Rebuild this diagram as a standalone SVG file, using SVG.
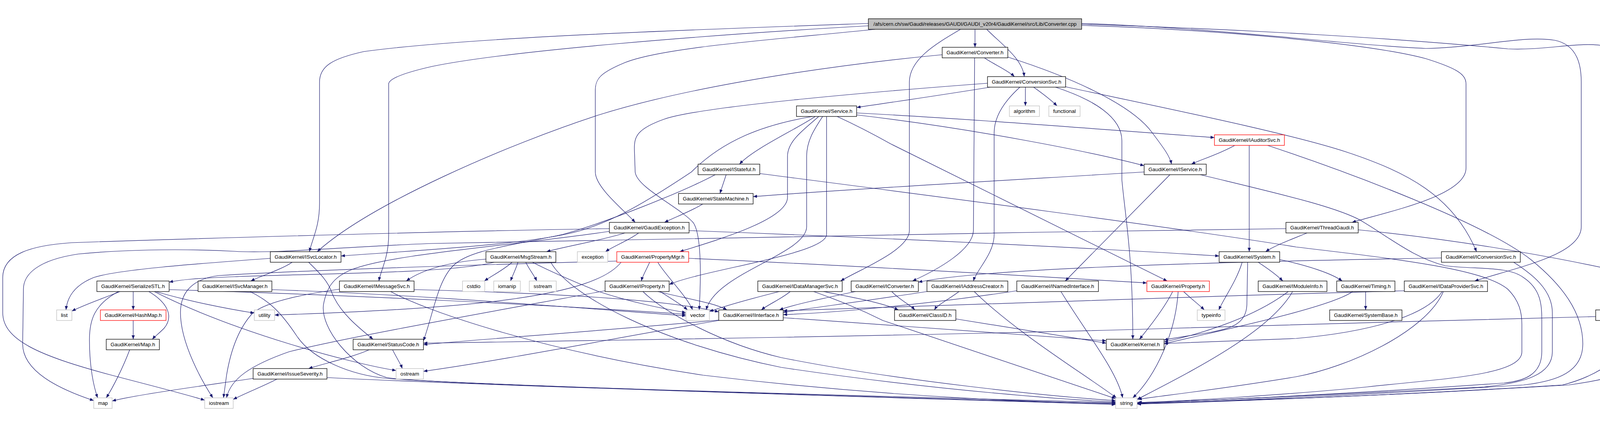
<svg xmlns="http://www.w3.org/2000/svg" width="4424" height="1090" viewBox="0 0 4424 1090">
<defs>
<marker id="a" viewBox="0 0 10 8" refX="10" refY="4" markerWidth="10" markerHeight="8" markerUnits="userSpaceOnUse" orient="auto"><path d="M0,0 L10,4 L0,8 z" fill="#191970"/></marker>
<style>
.node rect{fill:#fff;stroke:#000;stroke-width:1.3}
.node.g rect{stroke:#bfbfbf}
.node.r rect{stroke:#ff0000}
.node.root rect{fill:#bfbfbf}
.node text{font-family:"Liberation Sans",Arial,Helvetica,sans-serif;font-size:13px;fill:#000;text-anchor:middle}
#edges path{fill:none;stroke:#191970;stroke-width:1.2;marker-end:url(#a)}
</style>
</defs>
<rect width="4424" height="1090" fill="#fff"/>
<g id="edges">
<path d="M2496,75 L2496,121"/>
<path d="M2526,75 C2560,110 2618,150 2622,196"/>
<path d="M2223,60 C1800,75 1200,95 931,132 C850,150 818,170 818,210 L818,520 C818,580 800,610 792,644"/>
<path d="M2223,66 C1800,90 1300,130 1106,170 C1040,185 995,200 995,215 L995,600 C995,660 975,690 970,719"/>
<path d="M2240,75 C2000,100 1700,120 1600,160 C1540,185 1524,200 1524,230 L1524,440 C1524,480 1600,540 1626,569"/>
<path d="M2459,75 C2400,110 2328,150 2328,210 L2328,590 C2328,640 2200,690 2152,719"/>
<path d="M2769,65 C3100,75 3500,110 3650,150 C3730,175 3753,190 3753,215 L3753,430 C3753,500 3560,540 3461,569"/>
<path d="M2769,60 C3100,70 3450,115 3650,124 C3800,120 3900,90 3980,103 C4040,115 4048,170 4048,210 L4048,580 C4048,650 3900,680 3775,719"/>
<path d="M2769,62 C3200,75 3600,100 3860,125 C3950,130 4050,105 4110,118 C4160,130 4176,170 4176,210 L4176,700 C4176,740 4190,770 4196,793"/>
<path d="M2520,148 C2545,165 2580,180 2597,196"/>
<path d="M2580,146 C2750,200 2900,270 2950,340 C2980,380 2995,400 2999,420"/>
<path d="M2412,140 C2200,160 1800,210 1530,295 C1300,370 950,520 812,644"/>
<path d="M2495,148 L2492,590 C2490,640 2400,690 2336,719"/>
<path d="M2625,223 L2625,271"/>
<path d="M2646,223 C2670,240 2690,255 2706,271"/>
<path d="M2528,213 C2300,230 1800,270 1700,305 C1630,330 1624,350 1624,380 L1626,440 C1630,480 1740,530 1775,570 C1795,600 1795,700 1790,793"/>
<path d="M2535,223 C2400,245 2280,262 2193,275"/>
<path d="M2611,223 C2570,260 2545,300 2545,340 L2545,600 C2545,650 2500,690 2492,719"/>
<path d="M2702,223 C2800,255 2872,300 2872,360 L2872,460 C2880,550 2900,650 2900,868"/>
<path d="M2728,222 C2950,270 3300,340 3450,390 C3600,440 3720,500 3780,644"/>
<path d="M2193,289 C2500,305 2800,330 3109,352"/>
<path d="M2193,294 C2500,330 2800,390 2929,424"/>
<path d="M2143,298 C2180,315 2230,340 2280,368 L2988,719"/>
<path d="M2080,298 C1950,320 1850,360 1770,440 C1650,520 1550,580 1445,600 C1300,630 1000,645 873,655"/>
<path d="M2087,298 C2040,330 1930,380 1893,420"/>
<path d="M2096,298 C2060,330 2016,360 2016,400 L2016,505 C2016,560 1850,610 1740,644"/>
<path d="M2106,298 C2085,330 2065,360 2065,400 L2065,580 C2065,650 1830,700 1808,793"/>
<path d="M2116,298 L2116,600 C2116,650 1800,690 1713,728"/>
<path d="M3161,372 C3120,395 3070,410 3050,420"/>
<path d="M3198,372 L3198,644"/>
<path d="M3245,372 C3450,440 3800,570 3920,665 C4000,730 4052,800 4052,880 C4052,950 3990,975 3900,985 C3500,1010 3100,1028 2911,1033"/>
<path d="M2995,447 L2727,719"/>
<path d="M2929,440 C2600,460 2200,482 1928,503"/>
<path d="M3073,447 C3250,490 3430,530 3490,568 C3560,610 3620,660 3700,680 C3780,690 3860,680 3900,710 C3945,740 3947,780 3947,820 L3947,900 C3947,960 3900,975 3850,980 C3500,1005 3100,1025 2911,1031"/>
<path d="M1859,447 L1843,495"/>
<path d="M1831,447 C1750,490 1550,570 1440,600 C1300,630 1200,640 1160,680 C1120,720 1110,800 1084,872"/>
<path d="M1945,444 C2300,490 3000,580 3318,632 C3600,665 3800,690 3860,740 C3890,770 3896,800 3896,830 L3896,900 C3896,960 3700,968 3500,990 C3300,1010 3000,1028 2911,1030"/>
<path d="M1799,522 C1770,540 1730,555 1701,569"/>
<path d="M1600,596 C1540,615 1450,630 1399,644"/>
<path d="M1635,596 C1610,615 1570,630 1550,644"/>
<path d="M1764,590 C2300,610 2800,635 3121,655"/>
<path d="M1560,585 C1200,590 500,610 183,621 C80,628 7,650 7,710 L7,800 C7,870 100,910 282,959 C400,990 480,1010 524,1024"/>
<path d="M1560,592 C1300,630 1000,650 900,690 C850,710 835,740 828,780 C820,840 900,940 990,966 C1100,985 2300,1015 2856,1030"/>
<path d="M3346,596 C3300,615 3260,630 3240,644"/>
<path d="M3292,585 C2500,595 1500,615 1106,623 C900,630 700,650 600,643 C450,635 300,640 200,650 C100,665 60,700 60,740 L58,880 C58,950 150,995 240,1025"/>
<path d="M3477,588 C3800,620 4100,680 4250,720 C4320,745 4340,780 4337,820 C4330,900 4200,960 4016,985 C3600,1010 3200,1025 2911,1032"/>
<path d="M748,671 C720,690 670,705 642,719"/>
<path d="M692,661 C500,675 300,690 240,710 C190,730 172,760 169,793"/>
<path d="M790,671 C820,700 840,720 850,750 C870,800 920,840 955,868"/>
<path d="M640,746 C690,770 720,800 760,860 C800,920 900,960 990,968 C1100,980 2000,1010 2856,1033"/>
<path d="M695,741 C1100,755 1500,790 1756,808"/>
<path d="M869,740 C760,755 680,775 648,800 C610,840 590,900 580,960 C576,990 574,1005 572,1018"/>
<path d="M1060,741 C1400,750 1700,765 1840,798"/>
<path d="M1000,746 C1100,800 1400,900 1800,960 C2300,1020 2700,1030 2856,1032"/>
<path d="M1311,671 C1290,690 1260,705 1240,719"/>
<path d="M1326,671 C1320,690 1312,705 1307,719"/>
<path d="M1346,671 C1355,690 1368,705 1374,719"/>
<path d="M1363,671 C1420,700 1480,725 1530,745 C1620,775 1700,790 1756,800"/>
<path d="M1244,663 C1150,670 1080,690 1040,719"/>
<path d="M1265,671 C1150,700 800,700 600,708 C500,712 460,716 433,722"/>
<path d="M1410,671 C1460,760 1700,880 2000,940 C2400,1000 2750,1024 2856,1028"/>
<path d="M1663,671 C1655,690 1645,705 1642,719"/>
<path d="M1684,671 C1700,700 1760,760 1773,793"/>
<path d="M1763,661 C2200,680 2700,710 2936,724"/>
<path d="M1579,668 C1300,675 800,690 560,705 C480,715 462,760 462,800 C462,880 520,980 545,1018"/>
<path d="M1590,671 C1520,760 1200,790 703,806"/>
<path d="M1684,746 C1760,765 1830,775 1861,793"/>
<path d="M1690,746 C1720,765 1745,780 1760,793"/>
<path d="M1646,746 C1700,800 1850,880 2000,915 C2300,975 2700,1015 2856,1025"/>
<path d="M1549,744 C1300,790 900,860 740,900 C640,935 590,970 580,1018"/>
<path d="M2023,746 C2000,765 1965,780 1949,793"/>
<path d="M1995,746 C1900,770 1850,785 1816,797"/>
<path d="M2083,746 C2150,770 2200,790 2260,820 L2856,1020"/>
<path d="M2108,746 C2180,760 2260,775 2300,793"/>
<path d="M2283,746 C2300,765 2330,780 2342,793"/>
<path d="M2190,746 C2100,765 2030,780 1995,793"/>
<path d="M2455,746 C2430,765 2400,780 2392,793"/>
<path d="M2373,746 C2250,765 2100,785 2005,799"/>
<path d="M2494,746 C2600,850 2780,960 2858,1018"/>
<path d="M2603,744 C2400,775 2150,800 2005,805"/>
<path d="M2716,746 C2780,850 2860,950 2874,1018"/>
<path d="M3002,746 C2980,790 2940,840 2917,868"/>
<path d="M3016,746 C3010,850 2960,960 2900,1018"/>
<path d="M3030,746 C3050,765 3070,780 3083,793"/>
<path d="M3298,746 C3200,820 3050,860 2980,875"/>
<path d="M3309,746 C3250,850 3050,950 2911,1022"/>
<path d="M3496,746 L3496,793"/>
<path d="M3463,746 C3400,790 3100,850 2980,880"/>
<path d="M3595,744 C3000,760 2300,785 2005,795"/>
<path d="M3692,746 C3650,810 3500,850 3318,866 L2980,879"/>
<path d="M3695,746 C3650,850 3450,940 3318,964 C3100,1000 2950,1015 2913,1022"/>
<path d="M3180,671 C3165,720 3135,760 3120,793"/>
<path d="M3194,671 L3192,780 C3190,830 3150,840 3100,850 C3040,860 3000,865 2980,870"/>
<path d="M3221,671 C3250,690 3270,705 3284,719"/>
<path d="M3276,664 C3350,680 3410,700 3436,719"/>
<path d="M3690,660 C3000,672 2500,690 2351,722"/>
<path d="M3875,671 C3920,700 3974,740 3974,800 L3974,900 C3974,960 3900,980 3800,990 C3400,1010 3100,1025 2913,1030"/>
<path d="M4085,810 C3700,822 3400,826 3000,840 C2500,856 1500,872 1084,878"/>
<path d="M4201,821 C4180,900 4100,960 4000,985 C3600,1010 3200,1025 2911,1034"/>
<path d="M2005,813 C2300,832 2600,855 2832,872"/>
<path d="M1840,819 C1500,850 1200,870 1084,882"/>
<path d="M1840,820 C1600,860 1300,920 1084,950"/>
<path d="M2447,816 C2600,840 2750,865 2832,878"/>
<path d="M945,895 C900,915 830,930 790,943"/>
<path d="M1005,895 C1015,915 1025,930 1030,943"/>
<path d="M649,968 C500,990 350,1010 287,1026"/>
<path d="M709,970 C670,990 630,1005 597,1022"/>
<path d="M837,966 C1200,985 2200,1015 2856,1035"/>
<path d="M307,746 C260,765 215,780 184,796"/>
<path d="M341,746 L341,793"/>
<path d="M381,746 C430,775 445,810 420,840 C405,855 395,862 390,868"/>
<path d="M303,746 C240,780 229,820 229,870 C229,940 240,990 250,1018"/>
<path d="M399,746 C480,770 580,790 651,801"/>
<path d="M395,746 C600,850 900,930 1014,948"/>
<path d="M433,741 C900,755 1400,780 1756,804"/>
<path d="M341,820 L341,868"/>
<path d="M332,895 C315,940 290,990 272,1018"/>
</g>
<g id="root" class="node root"><rect x="2223" y="48" width="546" height="27"/><text x="2496" y="66" textLength="520" lengthAdjust="spacingAndGlyphs">/afs/cern.ch/sw/Gaudi/releases/GAUDI/GAUDI_v20r4/GaudiKernel/src/Lib/Converter.cpp</text></g>
<g id="n_converter" class="node"><rect x="2412" y="121" width="168" height="27"/><text x="2496" y="139" textLength="146" lengthAdjust="spacingAndGlyphs">GaudiKernel/Converter.h</text></g>
<g id="n_conversionsvc" class="node"><rect x="2528" y="196" width="200" height="27"/><text x="2628" y="214" textLength="178" lengthAdjust="spacingAndGlyphs">GaudiKernel/ConversionSvc.h</text></g>
<g id="n_algorithm" class="node g"><rect x="2584" y="271" width="77" height="27"/><text x="2622.5" y="289" textLength="55" lengthAdjust="spacingAndGlyphs">algorithm</text></g>
<g id="n_functional" class="node g"><rect x="2685" y="271" width="80" height="27"/><text x="2725" y="289" textLength="58" lengthAdjust="spacingAndGlyphs">functional</text></g>
<g id="n_service" class="node"><rect x="2039" y="271" width="154" height="27"/><text x="2116" y="289" textLength="132" lengthAdjust="spacingAndGlyphs">GaudiKernel/Service.h</text></g>
<g id="n_iauditorsvc" class="node r"><rect x="3109" y="345" width="179" height="27"/><text x="3198.5" y="363" textLength="157" lengthAdjust="spacingAndGlyphs">GaudiKernel/IAuditorSvc.h</text></g>
<g id="n_istateful" class="node"><rect x="1787" y="420" width="158" height="27"/><text x="1866" y="438" textLength="136" lengthAdjust="spacingAndGlyphs">GaudiKernel/IStateful.h</text></g>
<g id="n_iservice" class="node"><rect x="2929" y="420" width="159" height="27"/><text x="3008.5" y="438" textLength="137" lengthAdjust="spacingAndGlyphs">GaudiKernel/IService.h</text></g>
<g id="n_statemachine" class="node"><rect x="1737" y="495" width="191" height="27"/><text x="1832.5" y="513" textLength="169" lengthAdjust="spacingAndGlyphs">GaudiKernel/StateMachine.h</text></g>
<g id="n_gaudiexception" class="node"><rect x="1560" y="569" width="204" height="27"/><text x="1662" y="587" textLength="182" lengthAdjust="spacingAndGlyphs">GaudiKernel/GaudiException.h</text></g>
<g id="n_threadgaudi" class="node"><rect x="3292" y="569" width="185" height="27"/><text x="3384.5" y="587" textLength="163" lengthAdjust="spacingAndGlyphs">GaudiKernel/ThreadGaudi.h</text></g>
<g id="n_isvclocator" class="node"><rect x="692" y="644" width="181" height="27"/><text x="782.5" y="662" textLength="159" lengthAdjust="spacingAndGlyphs">GaudiKernel/ISvcLocator.h</text></g>
<g id="n_msgstream" class="node"><rect x="1244" y="644" width="179" height="27"/><text x="1333.5" y="662" textLength="157" lengthAdjust="spacingAndGlyphs">GaudiKernel/MsgStream.h</text></g>
<g id="n_exception" class="node g"><rect x="1478" y="644" width="78" height="27"/><text x="1517" y="662" textLength="56" lengthAdjust="spacingAndGlyphs">exception</text></g>
<g id="n_propertymgr" class="node r"><rect x="1579" y="644" width="184" height="27"/><text x="1671" y="662" textLength="162" lengthAdjust="spacingAndGlyphs">GaudiKernel/PropertyMgr.h</text></g>
<g id="n_system" class="node"><rect x="3121" y="644" width="155" height="27"/><text x="3198.5" y="662" textLength="133" lengthAdjust="spacingAndGlyphs">GaudiKernel/System.h</text></g>
<g id="n_iconversionsvc" class="node"><rect x="3690" y="644" width="202" height="27"/><text x="3791" y="662" textLength="180" lengthAdjust="spacingAndGlyphs">GaudiKernel/IConversionSvc.h</text></g>
<g id="n_serializestl" class="node"><rect x="248" y="719" width="185" height="27"/><text x="340.5" y="737" textLength="163" lengthAdjust="spacingAndGlyphs">GaudiKernel/SerializeSTL.h</text></g>
<g id="n_isvcmanager" class="node"><rect x="507" y="719" width="189" height="27"/><text x="601.5" y="737" textLength="167" lengthAdjust="spacingAndGlyphs">GaudiKernel/ISvcManager.h</text></g>
<g id="n_imessagesvc" class="node"><rect x="869" y="719" width="191" height="27"/><text x="964.5" y="737" textLength="169" lengthAdjust="spacingAndGlyphs">GaudiKernel/IMessageSvc.h</text></g>
<g id="n_cstdio" class="node g"><rect x="1184" y="719" width="57" height="27"/><text x="1212.5" y="737" textLength="35" lengthAdjust="spacingAndGlyphs">cstdio</text></g>
<g id="n_iomanip" class="node g"><rect x="1264" y="719" width="68" height="27"/><text x="1298" y="737" textLength="46" lengthAdjust="spacingAndGlyphs">iomanip</text></g>
<g id="n_sstream" class="node g"><rect x="1355" y="719" width="69" height="27"/><text x="1389.5" y="737" textLength="47" lengthAdjust="spacingAndGlyphs">sstream</text></g>
<g id="n_iproperty" class="node"><rect x="1549" y="719" width="164" height="27"/><text x="1631" y="737" textLength="142" lengthAdjust="spacingAndGlyphs">GaudiKernel/IProperty.h</text></g>
<g id="n_idatamanagersvc" class="node"><rect x="1940" y="719" width="216" height="27"/><text x="2048" y="737" textLength="194" lengthAdjust="spacingAndGlyphs">GaudiKernel/IDataManagerSvc.h</text></g>
<g id="n_iconverter" class="node"><rect x="2179" y="719" width="172" height="27"/><text x="2265" y="737" textLength="150" lengthAdjust="spacingAndGlyphs">GaudiKernel/IConverter.h</text></g>
<g id="n_iaddresscreator" class="node"><rect x="2373" y="719" width="207" height="27"/><text x="2476.5" y="737" textLength="185" lengthAdjust="spacingAndGlyphs">GaudiKernel/IAddressCreator.h</text></g>
<g id="n_inamedinterface" class="node"><rect x="2603" y="719" width="209" height="27"/><text x="2707.5" y="737" textLength="187" lengthAdjust="spacingAndGlyphs">GaudiKernel/INamedInterface.h</text></g>
<g id="n_property" class="node r"><rect x="2936" y="719" width="160" height="27"/><text x="3016" y="737" textLength="138" lengthAdjust="spacingAndGlyphs">GaudiKernel/Property.h</text></g>
<g id="n_imoduleinfo" class="node"><rect x="3221" y="719" width="176" height="27"/><text x="3309" y="737" textLength="154" lengthAdjust="spacingAndGlyphs">GaudiKernel/IModuleInfo.h</text></g>
<g id="n_timing" class="node"><rect x="3422" y="719" width="149" height="27"/><text x="3496.5" y="737" textLength="127" lengthAdjust="spacingAndGlyphs">GaudiKernel/Timing.h</text></g>
<g id="n_idataprovidersvc" class="node"><rect x="3595" y="719" width="213" height="27"/><text x="3701.5" y="737" textLength="191" lengthAdjust="spacingAndGlyphs">GaudiKernel/IDataProviderSvc.h</text></g>
<g id="n_list" class="node g"><rect x="145" y="793" width="39" height="27"/><text x="164.5" y="811" textLength="17" lengthAdjust="spacingAndGlyphs">list</text></g>
<g id="n_hashmap" class="node r"><rect x="257" y="793" width="168" height="27"/><text x="341" y="811" textLength="146" lengthAdjust="spacingAndGlyphs">GaudiKernel/HashMap.h</text></g>
<g id="n_utility" class="node g"><rect x="651" y="793" width="52" height="27"/><text x="677" y="811" textLength="30" lengthAdjust="spacingAndGlyphs">utility</text></g>
<g id="n_vector" class="node g"><rect x="1756" y="793" width="60" height="27"/><text x="1786" y="811" textLength="38" lengthAdjust="spacingAndGlyphs">vector</text></g>
<g id="n_iinterface" class="node"><rect x="1840" y="793" width="165" height="27"/><text x="1922.5" y="811" textLength="143" lengthAdjust="spacingAndGlyphs">GaudiKernel/IInterface.h</text></g>
<g id="n_classid" class="node"><rect x="2290" y="793" width="157" height="27"/><text x="2368.5" y="811" textLength="135" lengthAdjust="spacingAndGlyphs">GaudiKernel/ClassID.h</text></g>
<g id="n_typeinfo" class="node g"><rect x="3065" y="793" width="71" height="27"/><text x="3100.5" y="811" textLength="49" lengthAdjust="spacingAndGlyphs">typeinfo</text></g>
<g id="n_systembase" class="node"><rect x="3404" y="793" width="185" height="27"/><text x="3496.5" y="811" textLength="163" lengthAdjust="spacingAndGlyphs">GaudiKernel/SystemBase.h</text></g>
<g id="n_servicelocatorhelper" class="node"><rect x="4085" y="793" width="238" height="27"/><text x="4204" y="811" textLength="216" lengthAdjust="spacingAndGlyphs">GaudiKernel/ServiceLocatorHelper.h</text></g>
<g id="n_map_h" class="node"><rect x="272" y="868" width="136" height="27"/><text x="340" y="886" textLength="114" lengthAdjust="spacingAndGlyphs">GaudiKernel/Map.h</text></g>
<g id="n_statuscode" class="node"><rect x="904" y="868" width="180" height="27"/><text x="994" y="886" textLength="158" lengthAdjust="spacingAndGlyphs">GaudiKernel/StatusCode.h</text></g>
<g id="n_kernel" class="node"><rect x="2832" y="868" width="148" height="27"/><text x="2906" y="886" textLength="126" lengthAdjust="spacingAndGlyphs">GaudiKernel/Kernel.h</text></g>
<g id="n_issueseverity" class="node"><rect x="648" y="943" width="189" height="27"/><text x="742.5" y="961" textLength="167" lengthAdjust="spacingAndGlyphs">GaudiKernel/IssueSeverity.h</text></g>
<g id="n_ostream" class="node g"><rect x="1014" y="943" width="70" height="27"/><text x="1049" y="961" textLength="48" lengthAdjust="spacingAndGlyphs">ostream</text></g>
<g id="n_map" class="node g"><rect x="240" y="1018" width="47" height="27"/><text x="263.5" y="1036" textLength="25" lengthAdjust="spacingAndGlyphs">map</text></g>
<g id="n_iostream" class="node g"><rect x="524" y="1018" width="73" height="27"/><text x="560.5" y="1036" textLength="51" lengthAdjust="spacingAndGlyphs">iostream</text></g>
<g id="n_string" class="node g"><rect x="2856" y="1018" width="55" height="27"/><text x="2883.5" y="1036" textLength="33" lengthAdjust="spacingAndGlyphs">string</text></g>
</svg>
